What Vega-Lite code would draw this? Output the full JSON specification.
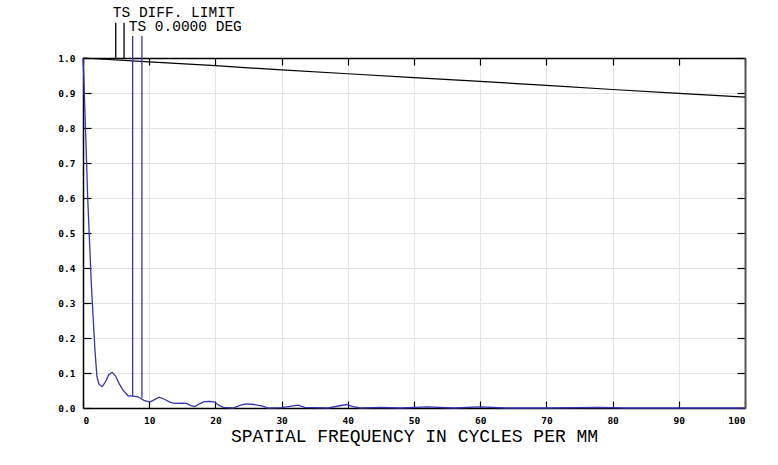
{
  "$schema": "https://vega.github.io/schema/vega-lite/v6.json",
  "width": 662,
  "height": 350,
  "autosize": {"type": "none"},
  "padding": {"left": 83, "top": 58, "right": 33, "bottom": 57},
  "background": "white",
  "config": {"view": {"stroke": null}},
  "datasets": {
    "mtf": [
      {"f": 0, "m": 1.0}, {"f": 0.1, "m": 0.957}, {"f": 0.25, "m": 0.87}, {"f": 0.4, "m": 0.786},
      {"f": 0.7, "m": 0.605}, {"f": 1.0, "m": 0.47}, {"f": 1.25, "m": 0.357}, {"f": 1.5, "m": 0.27},
      {"f": 1.8, "m": 0.167}, {"f": 2.1, "m": 0.09}, {"f": 2.4, "m": 0.068}, {"f": 2.9, "m": 0.061},
      {"f": 3.4, "m": 0.075}, {"f": 3.9, "m": 0.095}, {"f": 4.4, "m": 0.102}, {"f": 4.9, "m": 0.092},
      {"f": 5.5, "m": 0.068}, {"f": 6.05, "m": 0.051}, {"f": 6.8, "m": 0.035}, {"f": 7.5, "m": 0.034},
      {"f": 8.3, "m": 0.032}, {"f": 9.2, "m": 0.022}, {"f": 10.1, "m": 0.017}, {"f": 10.8, "m": 0.024},
      {"f": 11.5, "m": 0.031}, {"f": 12.3, "m": 0.025}, {"f": 13.2, "m": 0.016}, {"f": 13.9, "m": 0.013},
      {"f": 15.0, "m": 0.014}, {"f": 15.6, "m": 0.013}, {"f": 16.3, "m": 0.007}, {"f": 16.9, "m": 0.004},
      {"f": 17.6, "m": 0.012}, {"f": 18.3, "m": 0.018}, {"f": 19.2, "m": 0.019}, {"f": 19.9, "m": 0.017},
      {"f": 20.5, "m": 0.008}, {"f": 21.2, "m": 0.002}, {"f": 22.7, "m": 0.0}, {"f": 23.8, "m": 0.008},
      {"f": 24.7, "m": 0.012}, {"f": 25.8, "m": 0.01}, {"f": 27, "m": 0.006}, {"f": 28, "m": 0.0},
      {"f": 30, "m": 0.001}, {"f": 32.5, "m": 0.008}, {"f": 33.5, "m": 0.002}, {"f": 35, "m": 0.001},
      {"f": 37, "m": 0.0}, {"f": 39.8, "m": 0.01}, {"f": 40.8, "m": 0.004}, {"f": 42, "m": 0.0},
      {"f": 45, "m": 0.002}, {"f": 48, "m": 0.0}, {"f": 52, "m": 0.003}, {"f": 56, "m": 0.0},
      {"f": 60, "m": 0.003}, {"f": 64, "m": 0.0}, {"f": 70, "m": 0.0}, {"f": 78, "m": 0.002},
      {"f": 82, "m": 0.0}, {"f": 90, "m": 0.0}, {"f": 100, "m": 0.0}
    ],
    "diff": [
      {"f": 0, "m": 1.0}, {"f": 10, "m": 0.989}, {"f": 20, "m": 0.978}, {"f": 30, "m": 0.966},
      {"f": 40, "m": 0.955}, {"f": 50, "m": 0.944}, {"f": 60, "m": 0.933}, {"f": 70, "m": 0.922},
      {"f": 80, "m": 0.91}, {"f": 90, "m": 0.899}, {"f": 100, "m": 0.888}
    ],
    "leaders": [
      {"f": 4.95, "top": 1.101, "bottom": 1.0, "series": "diff"},
      {"f": 6.2, "top": 1.101, "bottom": 0.997, "series": "diff"},
      {"f": 7.5, "top": 1.063, "bottom": 0.034, "series": "ts"},
      {"f": 8.9, "top": 1.063, "bottom": 0.029, "series": "ts"}
    ],
    "labels": [
      {"f": 4.5, "m": 1.13, "text": "TS DIFF. LIMIT"},
      {"f": 6.9, "m": 1.089, "text": "TS 0.0000 DEG"}
    ]
  },
  "resolve": {"axis": {"x": "independent", "y": "independent"}},
  "layer": [
    {
      "data": {"name": "diff"},
      "mark": {"type": "line", "color": "black", "strokeWidth": 1.2},
      "encoding": {
        "x": {"field": "f", "type": "quantitative", "scale": {"domain": [0, 100], "nice": false},
          "axis": {"orient": "top", "values": [0,10,20,30,40,50,60,70,80,90,100], "labels": false, "grid": false, "title": null,
            "domainColor": "black", "domainWidth": 1.5, "tickColor": "black", "tickSize": -7, "tickWidth": 1.2}},
        "y": {"field": "m", "type": "quantitative", "scale": {"domain": [0, 1], "nice": false},
          "axis": {"orient": "right", "values": [0,0.1,0.2,0.3,0.4,0.5,0.6,0.7,0.8,0.9,1.0], "labels": false, "grid": false, "title": null,
            "domainColor": "#555555", "domainWidth": 2, "tickColor": "black", "tickSize": -8, "tickWidth": 1.2}}
      }
    },
    {
      "data": {"name": "mtf"},
      "mark": {"type": "line", "color": "#3434b0", "strokeWidth": 1.3},
      "encoding": {
        "x": {"field": "f", "type": "quantitative", "scale": {"domain": [0, 100], "nice": false},
          "axis": {"orient": "bottom", "values": [0,10,20,30,40,50,60,70,80,90,100], "format": "d",
            "grid": true, "gridColor": "#e4e4e4", "gridWidth": 1,
            "domainColor": "black", "domainWidth": 1.5, "tickColor": "black", "tickSize": -7, "tickWidth": 1.2,
            "labelFont": "DejaVu Sans Mono", "labelFontWeight": "bold", "labelFontSize": 9.5, "labelColor": "black", "labelPadding": 14,
            "title": "SPATIAL FREQUENCY IN CYCLES PER MM", "titleFont": "Liberation Mono", "titleFontSize": 18, "titleFontWeight": "normal",
            "titleColor": "black", "titlePadding": 3}},
        "y": {"field": "m", "type": "quantitative", "scale": {"domain": [0, 1], "nice": false},
          "axis": {"orient": "left", "values": [0,0.1,0.2,0.3,0.4,0.5,0.6,0.7,0.8,0.9,1.0], "format": ".1f",
            "grid": true, "gridColor": "#e4e4e4", "gridWidth": 1,
            "domainColor": "black", "domainWidth": 1.5, "tickColor": "black", "tickSize": -8, "tickWidth": 1.2,
            "labelFont": "DejaVu Sans Mono", "labelFontWeight": "bold", "labelFontSize": 9.5, "labelColor": "black", "labelPadding": 16,
            "title": null}}
      }
    },
    {
      "data": {"name": "leaders"},
      "mark": {"type": "rule", "strokeWidth": 1.3, "clip": false},
      "encoding": {
        "x": {"field": "f", "type": "quantitative", "axis": null},
        "y": {"field": "top", "type": "quantitative", "axis": null},
        "y2": {"field": "bottom"},
        "color": {"field": "series", "type": "nominal", "scale": {"domain": ["diff", "ts"], "range": ["black", "#3434b0"]}, "legend": null}
      }
    },
    {
      "data": {"name": "labels"},
      "mark": {"type": "text", "align": "left", "baseline": "middle", "font": "Liberation Mono", "fontSize": 14.5, "color": "black", "clip": false},
      "encoding": {
        "x": {"field": "f", "type": "quantitative", "axis": null},
        "y": {"field": "m", "type": "quantitative", "axis": null},
        "text": {"field": "text"}
      }
    }
  ]
}
